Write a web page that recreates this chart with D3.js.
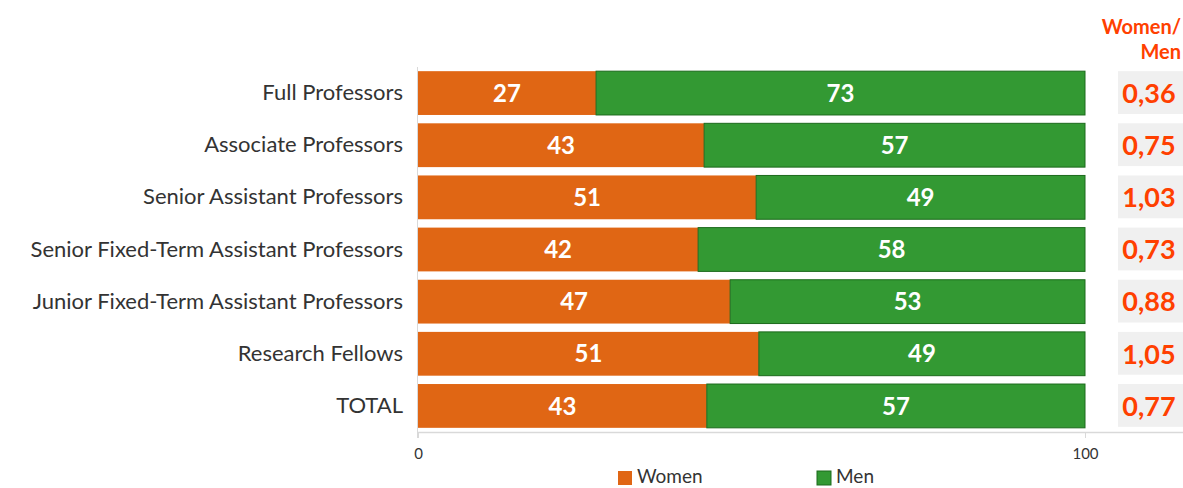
<!DOCTYPE html>
<html>
<head>
<meta charset="utf-8">
<script src="https://cdn.jsdelivr.net/npm/d3@7"></script>
<style>
  html, body { margin: 0; padding: 0; background: #fff; }
  svg { display: block; font-family: "Source Sans Pro", Lato, "Open Sans", sans-serif; }
</style>
</head>
<body>
<svg id="chart" width="1183" height="488"></svg>
<script>
const categories = [
  "Full Professors",
  "Associate Professors",
  "Senior Assistant Professors",
  "Senior Fixed-Term Assistant Professors",
  "Junior Fixed-Term Assistant Professors",
  "Research Fellows",
  "TOTAL"
];
const women = [26.7, 42.9, 50.7, 42.0, 46.8, 51.1, 43.3];
const men   = [73.3, 57.1, 49.3, 58.0, 53.2, 48.9, 56.7];
const ratio = [0.36, 0.75, 1.03, 0.73, 0.88, 1.05, 0.77];
const seriesNames = ["Women", "Men"];
const xTicks = [0, 100];
const ratioTitle = ["Women/", "Men"];

const colors = { Women: "#e06614", Men: "#339933" };
const strokes = { Women: "none", Men: "#1c6a1c" };
const FONT = "\"Source Sans Pro\", Lato, \"Open Sans\", sans-serif";

const svg = d3.select("#chart");
const W = 1183, H = 488;
const x = d3.scaleLinear().domain([0, 100]).range([418, 1085]);
const y = d3.scaleBand().domain(categories).range([67, 432]).paddingInner(0.16).paddingOuter(0.08);

const rows = categories.map((c, i) => ({ cat: c, Women: women[i], Men: men[i], ratio: ratio[i] }));
const stack = d3.stack().keys(seriesNames)(rows);

// axis lines
svg.append("line").attr("x1", 417.5).attr("x2", 417.5).attr("y1", 67).attr("y2", 438)
  .attr("stroke", "#d9d9d9").attr("stroke-width", 1);
svg.append("line").attr("x1", 417).attr("x2", W).attr("y1", 432.5).attr("y2", 432.5)
  .attr("stroke", "#d9d9d9").attr("stroke-width", 1.5);

// x axis
const xAxis = d3.axisBottom(x).tickValues(xTicks).tickSize(6).tickPadding(10);
const gx = svg.append("g").attr("transform", "translate(0,432)").call(xAxis);
gx.select(".domain").remove();
gx.selectAll(".tick line").attr("stroke", "#d9d9d9");
gx.selectAll(".tick text").attr("fill", "#333").style("font-size", "15px").style("font-family", FONT);

// bars
const layers = svg.append("g").selectAll("g").data(stack).join("g")
  .attr("fill", d => colors[d.key])
  .attr("stroke", d => strokes[d.key]);
layers.selectAll("rect").data(d => d).join("rect")
  .attr("x", d => x(d[0]))
  .attr("y", d => y(d.data.cat))
  .attr("width", d => x(d[1]) - x(d[0]))
  .attr("height", y.bandwidth());

// value labels
stack.forEach(layer => {
  svg.append("g").selectAll("text").data(layer).join("text")
    .attr("x", d => (x(d[0]) + x(d[1])) / 2)
    .attr("y", d => y(d.data.cat) + y.bandwidth() / 2)
    .attr("dy", "0.36em")
    .attr("text-anchor", "middle")
    .attr("fill", "#fff")
    .style("font-size", "24px")
    .style("font-weight", "bold")
    .text(d => Math.round(d.data[layer.key]));
});

// category labels (y axis)
const yAxis = d3.axisLeft(y).tickSize(0).tickPadding(0);
const gy = svg.append("g").attr("transform", "translate(403,0)").call(yAxis);
gy.select(".domain").remove();
gy.selectAll(".tick text").attr("fill", "#333").style("font-size", "22px").style("font-family", FONT);

// ratio column
const rg = svg.append("g");
rg.selectAll("rect").data(rows).join("rect")
  .attr("x", 1118).attr("width", W - 1118)
  .attr("y", d => y(d.cat)).attr("height", y.bandwidth() - 1)
  .attr("fill", "#f0f0f0");
rg.selectAll("text").data(rows).join("text")
  .attr("x", 1149)
  .attr("y", d => y(d.cat) + y.bandwidth() / 2)
  .attr("dy", "0.36em")
  .attr("text-anchor", "middle")
  .attr("fill", "#ff4000")
  .style("font-size", "27px")
  .style("font-weight", "bold")
  .text(d => d3.format(".2f")(d.ratio).replace(".", ","));

svg.append("g").selectAll("text").data(ratioTitle).join("text")
  .attr("x", 1181).attr("y", (d, i) => 34 + i * 25)
  .attr("text-anchor", "end")
  .attr("fill", "#ff4000")
  .style("font-size", "20px").style("font-weight", "bold")
  .text(d => d);

// legend
const legendX = [618, 817];
const lg = svg.append("g").selectAll("g").data(seriesNames).join("g")
  .attr("transform", (d, i) => `translate(${legendX[i]},471)`);
lg.append("rect").attr("width", 14).attr("height", 14)
  .attr("fill", d => colors[d]).attr("stroke", d => strokes[d]);
lg.append("text").attr("x", 19).attr("y", 5).attr("dy", "0.36em")
  .attr("fill", "#333").style("font-size", "19px").text(d => d);
</script>
</body>
</html>
